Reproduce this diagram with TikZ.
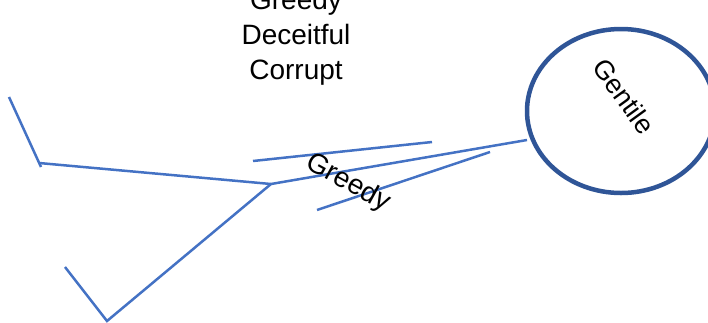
\documentclass[tikz,border=0pt]{standalone}
\usepackage{fontspec}
\setmainfont{Liberation Sans}
\usetikzlibrary{shapes.geometric}
\definecolor{linkblue}{HTML}{4472C4}
\definecolor{ringblue}{HTML}{2F5597}
\begin{document}
\begin{tikzpicture}[x=1pt,y=-1pt,
  link/.style={draw=linkblue,line width=2.5pt},
  ring/.style={draw=ringblue,line width=4.5pt},
  word/.style={font=\fontsize{28}{34}\selectfont,inner sep=0pt}]
\useasboundingbox (0,0) rectangle (708,322);
% coordinates
\coordinate (a) at (9,97);
\coordinate (b) at (41,167);
\coordinate (b2) at (39,163);
\coordinate (j) at (271,184);
\coordinate (c) at (527,140);
\coordinate (d) at (107,321);
\coordinate (e) at (65,267);
\coordinate (f1) at (253,161);
\coordinate (f2) at (432,142);
\coordinate (g1) at (317,210);
\coordinate (g2) at (490,152);
% circle
\node[ring,ellipse,minimum width=188,minimum height=164,inner sep=0pt] (gent) at (621,111) {};
\node[font=\fontsize{27}{30}\selectfont,inner sep=0pt,rotate=-54] (gentlbl) at (624,96) {Gentile};
% text
\node[word,anchor=base] (t1) at (296,9) {Greedy};
\node[word,anchor=base] (t2) at (296,44) {Deceitful};
\node[word,anchor=base] (t3) at (296,79) {Corrupt};
% lines
\draw[link] (a) -- (b);
\draw[link] (b2) -- (j);
\draw[link] (j) -- (c);
\draw[link] (j) -- (d) -- (e);
\draw[link] (f1) -- (f2);
\draw[link] (g1) -- (g2);
\node[word,rotate=-29] (greedy) at (348,183) {Greedy};
\end{tikzpicture}
\end{document}
